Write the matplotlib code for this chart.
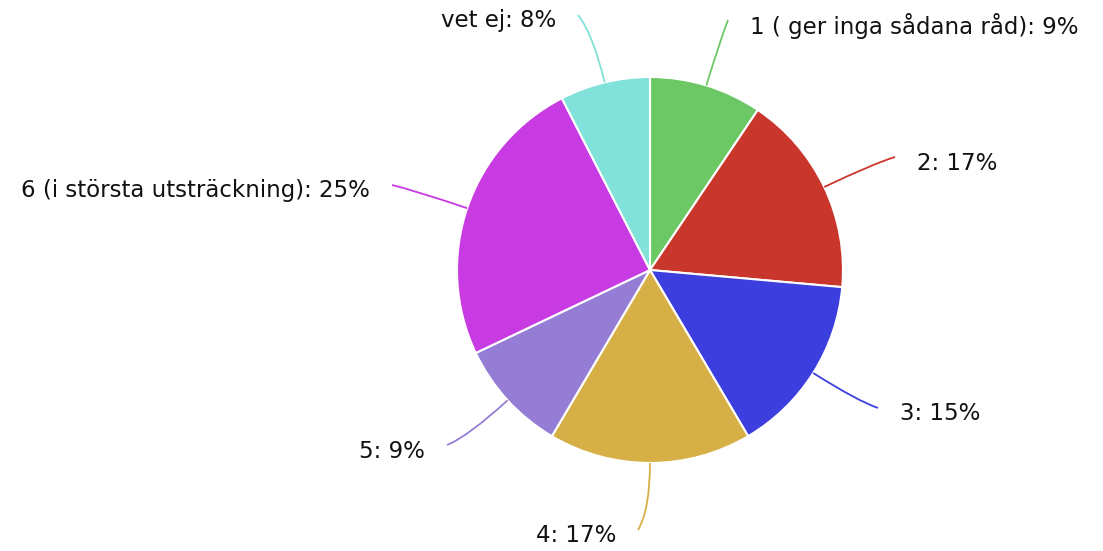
import numpy as np
import matplotlib
matplotlib.use("Agg")
import matplotlib.pyplot as plt
from matplotlib.path import Path
from matplotlib.patches import PathPatch

# answers per option (shown as rounded percentages)
labels = ["1 ( ger inga sådana råd)", "2", "3", "4", "5",
          "6 (i största utsträckning)", "vet ej"]
counts = [5, 9, 8, 9, 5, 13, 4]
colors = ["#6cc865", "#c9372c", "#3c3fde", "#d6b046", "#957dd6",
          "#c83ae2", "#80e2d8"]

# layout: where each leader line ends (pixel coords, y down)
line_ends = [(728, 20), (895, 157), (878, 408), (638, 530),
             (447, 445), (392, 185), (578, 15)]

W, H = 1103, 551
CX, CY, R = 650, 281, 193

fig = plt.figure(figsize=(W / 100, H / 100), dpi=100)
ax = fig.add_axes([0, 0, 1, 1])

wedges, _ = ax.pie(counts, colors=colors, startangle=90, counterclock=False,
                   center=(CX, CY), radius=R, frame=True,
                   wedgeprops=dict(edgecolor="white", linewidth=1.5))
ax.set_xlim(0, W)
ax.set_ylim(0, H)
ax.set_aspect("equal")
ax.axis("off")

total = sum(counts)
for w, lab, n, c, (ex, ey) in zip(wedges, labels, counts, colors, line_ends):
    ey = H - ey
    mid = np.deg2rad((w.theta1 + w.theta2) / 2)
    d = np.array([np.cos(mid), np.sin(mid)])
    p0 = np.array([CX, CY]) + R * d
    dist = np.hypot(ex - CX, ey - CY)
    p1 = np.array([CX, CY]) + 0.92 * dist * d
    path = Path([p0, p1, (ex, ey)], [Path.MOVETO, Path.CURVE3, Path.CURVE3])
    ax.add_patch(PathPatch(path, fc="none", ec=c, lw=1.3))
    right = ex > CX
    tx = ex + 22 if right else ex - 22
    ax.text(tx, ey - 6, f"{lab}: {round(100 * n / total)}%",
            ha="left" if right else "right", va="center",
            fontsize=16.5, color="#111111")

fig.savefig("out.png", dpi=100)
